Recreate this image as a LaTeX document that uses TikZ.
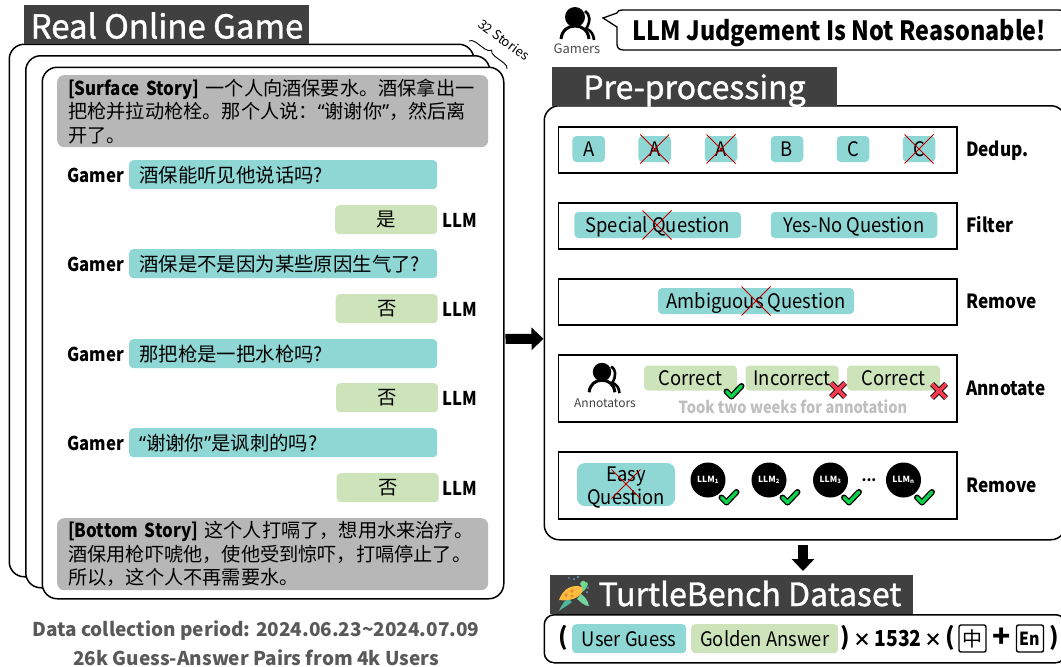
\documentclass[tikz,border=0pt]{standalone}
\usepackage{fontspec}
\setmainfont{Noto Sans CJK SC}
\newfontfamily\latq{Noto Sans}
\newfontfamily\titlefont[FakeBold=1.2]{Noto Sans CJK SC}
\newfontfamily\bd[FakeStretch=0.88]{Noto Sans CJK SC}
\newfontfamily\chipf[FakeStretch=0.92]{Noto Sans CJK SC}
\newcommand{\bdf}{\bd\bfseries}
\usetikzlibrary{arrows.meta,decorations.pathreplacing,calc}
\definecolor{tealc}{HTML}{8ED7D5}
\definecolor{greenc}{HTML}{CDE3BA}
\definecolor{grayc}{HTML}{B7B7B7}
\definecolor{barc}{HTML}{404040}
\definecolor{okc}{HTML}{0BD24A}
\definecolor{noc}{HTML}{F5394F}
\newcommand{\fs}[1]{\fontsize{#1}{#1}\selectfont}
\newcommand{\qo}{{\latq “}}
\newcommand{\qc}{{\latq ”}}
\newcommand{\zc}{\symbol{"FF0C}}
\newcommand{\zk}{\symbol{"FF1A}}
\tikzset{
  card/.style={draw=black,fill=white,line width=1.5pt,rounded corners=15pt,anchor=north west,inner sep=0pt},
  storybox/.style={fill=grayc,rounded corners=7pt,anchor=north west,inner xsep=11pt,inner ysep=0pt,minimum height=72pt,text width=409pt,align=left,font=\fontsize{19.2}{23.5}\selectfont},
  tealq/.style={fill=tealc,rounded corners=4pt,anchor=north west,minimum width=308pt,minimum height=29pt,inner xsep=10pt,inner ysep=0pt,text width=288pt,align=left,font=\fs{19.4}},
  greena/.style={fill=greenc,rounded corners=4pt,anchor=north west,minimum width=102pt,minimum height=29pt,inner sep=0pt,font=\fs{19.4}},
  who/.style={font=\bdf\fs{19},inner sep=0pt,text height=15pt,text depth=0pt},
  bar/.style={fill=barc,anchor=north west,inner sep=0pt},
  bartext/.style={text=white,font=\titlefont\fs{32},inner sep=0pt,text height=22pt,text depth=0pt},
  stage/.style={draw=black,line width=1.5pt,anchor=north west,minimum width=398.5pt,inner sep=0pt},
  stagelabel/.style={font=\bdf\fs{19.5},anchor=west,inner sep=0pt,text height=14pt,text depth=0pt},
  chip/.style={fill=tealc,rounded corners=4pt,inner sep=0pt,font=\chipf\fs{20},text height=15.5pt,text depth=0pt},
  gchip/.style={fill=greenc,rounded corners=4pt,inner sep=0pt,font=\chipf\fs{20},text height=15.5pt,text depth=0pt},
  llmdot/.style={circle,fill=black,minimum size=35pt,inner sep=0pt,text=white,font=\bfseries\fs{8.5}},
  bigarrow/.style={line width=10pt,-{Triangle[length=12pt,width=22pt]}},
  redx/.pic={\draw[red!75!black,line width=0.9pt] (-14.5,-14.5)--(14.5,14.5) (-14.5,14.5)--(14.5,-14.5);},
  okmark/.pic={\draw[black,line width=6pt,line cap=round,line join=round] (-7.5,0.5)--(-2.5,5.5)--(7.5,-5);
               \draw[okc,line width=3.4pt,line cap=round,line join=round] (-7.5,0.5)--(-2.5,5.5)--(7.5,-5);},
  nomark/.pic={\draw[black,line width=5.6pt] (-7,-7)--(7,7) (-7,7)--(7,-7);
               \draw[noc,line width=3.6pt] (-7,-7)--(7,7) (-7,7)--(7,-7);},
  people/.pic={
    \draw[black,line width=2.6pt] (10,-6) .. controls (15,-3) and (16,4) .. (11,12);
    \draw[black,line width=2.6pt] (12,12) .. controls (16,14) and (18.5,17) .. (19,23);
    \fill[black] (0,0) circle (10);
    \draw[black,line width=3pt] (-14,22) .. controls (-13,13) and (-7,9) .. (0,9) .. controls (7,9) and (13,13) .. (14,22);}
}
\begin{document}
\begin{tikzpicture}[x=1pt,y=-1pt]
\useasboundingbox (0,0) rectangle (1061,667);
\clip (0,0) rectangle (1061,667);
\fill[white] (0,0) rectangle (1061,667);

% left stack
\node[card,minimum width=464.5pt,minimum height=532.5pt] (card1) at (8.5,43.5) {};
\node[card,minimum width=464pt,minimum height=532pt] (card2) at (25,55) {};
\node[card,minimum width=461.5pt,minimum height=531.5pt] (card3) at (41.5,66.5) {};
\node[bar,minimum width=285pt,minimum height=39pt] (title1) at (24,5) {};
\node[bartext,anchor=center,font=\titlefont\fs{33},text height=23pt] (title1t) at (167,27) {Real Online Game};

\draw[line width=0.9pt,decorate,decoration={brace,amplitude=6pt}] (469,41) -- (507,69);
\node[font=\fs{13},rotate=-36,inner sep=0pt] (stories) at (504,40) {32 Stories};

\node[storybox] (surface) at (57,75) {\mbox{{\bdf [Surface Story]} 一个人向酒保要水。酒保拿出一}\\把枪并拉动枪栓。那个人说\zk\qo 谢谢你\qc\zc 然后离\\开了。};

\node[who,anchor=east] (g1) at (124,175) {Gamer};
\node[tealq] (q1) at (129,160) {酒保能听见他说话吗?};
\node[greena] (a1) at (335,205) {是};
\node[who,anchor=west] (l1) at (442,220) {LLM};
\node[who,anchor=east] (g2) at (124,264) {Gamer};
\node[tealq] (q2) at (129,249) {酒保是不是因为某些原因生气了?};
\node[greena] (a2) at (335.5,294) {否};
\node[who,anchor=west] (l2) at (442,309) {LLM};
\node[who,anchor=east] (g3) at (124,354) {Gamer};
\node[tealq] (q3) at (129,339) {那把枪是一把水枪吗?};
\node[greena] (a3) at (336,383) {否};
\node[who,anchor=west] (l3) at (442,398) {LLM};
\node[who,anchor=east] (g4) at (124,443) {Gamer};
\node[tealq] (q4) at (129,428) {\qo 谢谢你\qc 是讽刺的吗?};
\node[greena] (a4) at (336.5,473) {否};
\node[who,anchor=west] (l4) at (442,488) {LLM};

\node[storybox] (bottom) at (57,518) {\mbox{{\bdf [Bottom Story]} 这个人打嗝了\zc 想用水来治疗。}\\酒保用枪吓唬他\zc 使他受到惊吓\zc 打嗝停止了。\\所以\zc 这个人不再需要水。};

\node[font=\bfseries\fs{19},text=black!65,inner sep=0pt] (note1) at (256,630.5) {Data collection period: 2024.06.23\textasciitilde 2024.07.09};
\node[font=\bfseries\fs{19},text=black!65,inner sep=0pt] (note2) at (256,658) {26k Guess-Answer Pairs from 4k Users};

% right top
\pic at (575,17) {people};
\node[font=\fs{13},text=black!70,inner sep=0pt] (gamers) at (577,49) {Gamers};
\draw[black,line width=1.3pt,fill=white] (603,18) -- (617,13) .. controls (617,11) and (619,10) .. (624,10) -- (1059,10) .. controls (1063,10) and (1065,12) .. (1065,16) -- (1065,44) .. controls (1065,48) and (1063,50) .. (1059,50) -- (624,50) .. controls (619,50) and (617,48) .. (617,44) -- (617,27) -- cycle;
\node[font=\bdf\fs{26.5},inner sep=0pt,text height=16pt,text depth=0pt] (judge) at (839.5,32) {LLM Judgement Is Not Reasonable!};

% pre-processing panel
\node[card,minimum width=521.5pt,minimum height=434pt] (panel) at (543.5,105) {};
\node[bar,minimum width=285pt,minimum height=39pt] (title2) at (552,67) {};
\node[bartext,anchor=center] (title2t) at (694.5,88) {Pre-processing};

% Dedup
\node[stage,minimum height=46pt] (s1) at (557.5,126) {};
\foreach \n/\cx/\t in {1/588.7/A,2/654.7/A,3/721/A,4/787/B,5/853/C,6/919/C}{
  \node[chip,minimum width=32.5pt,minimum height=26pt] (d\n) at (\cx,149) {\t};
}
\foreach \n in {2,3,6}{\pic at (d\n.center) {redx};}
\node[stagelabel] (ls1) at (966,149) {Dedup.};

% Filter
\node[stage,minimum height=46pt] (s2) at (557.5,202) {};
\node[chip,minimum width=166.5pt,minimum height=26pt] (f1) at (657.7,225) {Special Question};
\node[chip,minimum width=166.5pt,minimum height=26pt] (f2) at (854,225) {Yes-No Question};
\pic at (657,225) {redx};
\node[stagelabel] (ls2) at (966,225) {Filter};

% Remove
\node[stage,minimum height=46pt] (s3) at (557.5,278) {};
\node[chip,minimum width=196pt,minimum height=26pt] (r1) at (756,301) {Ambiguous Question};
\pic at (756,301) {redx};
\node[stagelabel] (ls3) at (966,301) {Remove};

% Annotate
\node[stage,minimum height=67pt] (s4) at (557.5,354) {};
\pic[scale=0.92] at (602,372) {people};
\node[font=\fs{12},text=black!75,inner sep=0pt] (annot) at (605,403) {Annotators};
\node[gchip,minimum width=93pt,minimum height=25pt] (c1) at (690.5,378) {Correct};
\node[gchip,minimum width=93pt,minimum height=25pt] (c2) at (792,378) {Incorrect};
\node[gchip,minimum width=93pt,minimum height=25pt] (c3) at (893.5,378) {Correct};
\pic at (734,391) {okmark};
\pic at (838,390) {nomark};
\pic at (939,391) {nomark};
\node[font=\bdf\fs{16.6},text=black!25,inner sep=0pt] (took) at (793,407) {Took two weeks for annotation};
\node[stagelabel] (ls4) at (966,388) {Annotate};

% Remove 2
\node[stage,minimum height=67pt] (s5) at (557.5,451) {};
\node[chip,rounded corners=8pt,minimum width=98pt,minimum height=43pt] (e1) at (626,484.5) {};
\node[font=\chipf\fs{20},inner sep=0pt,text height=13.5pt,text depth=0pt] (e1a) at (626,475) {Easy};
\node[font=\chipf\fs{20},inner sep=0pt,text height=13.5pt,text depth=0pt] (e1b) at (626,497.5) {Question};
\pic at (626,484) {redx};
\foreach \n/\cx/\t in {1/708/1,2/769/2,3/830.5/3,4/903.5/n}{
  \node[llmdot] (m\n) at (\cx,480) {LLM\textsubscript{\t}};
  \pic at (\cx+21,497) {okmark};
}
\node[font=\bfseries\fs{14},inner sep=0pt] (mdots) at (869,480) {...};
\node[stagelabel] (ls5) at (966,485) {Remove};

% dataset
\node[bar,minimum width=363pt,minimum height=38.5pt] (title3) at (550,575) {};
\begin{scope}[shift={(575,594)}]
  \fill[okc!30!teal!70] (-3,8) .. controls (-8,12) and (-14,15) .. (-16,17) .. controls (-12,8) and (-10,6) .. (-6,5) -- cycle;
  \fill[teal!60!green!55] (2,5) .. controls (6,8) and (9,12) .. (14,12) .. controls (13,6) and (9,2) .. (6,0) -- cycle;
  \fill[teal!55!green!60] (6,-6) .. controls (8,-9) and (9,-12) .. (12,-12) .. controls (15,-10) and (10,-3) .. (7,-2) -- cycle;
  \fill[teal!50!green!55] (5,-10) .. controls (6,-13) and (9,-15) .. (11,-11) -- (8,-6) -- cycle;
  \fill[orange!70!yellow!75] (-16,6) .. controls (-12,-6) and (-2,-10) .. (7,-7) .. controls (10,0) and (0,8) .. (-16,6) -- cycle;
  \fill[orange!85!black!80] (-9,1) circle (1.8) (-3,-3) circle (1.8) (-3,2) circle (1.6);
  \fill[cyan!70!blue!60] (-6,-16) circle (0.8) (-1,-15) circle (1) (3,-17) circle (1.1) (13,-6) circle (0.9) (12,-2) circle (1);
\end{scope}
\node[bartext,anchor=center] (title3t) at (750,595) {TurtleBench Dataset};
\node[card,fill=white,rounded corners=10pt,minimum width=521.5pt,minimum height=48pt] (dpanel) at (543.5,614) {};
\node[font=\bfseries\fs{24},inner sep=0pt] (p1) at (563,638) {(};
\node[chip,fill=tealc,minimum width=114pt,minimum height=29pt,anchor=north west] (ug) at (572,624) {User Guess};
\node[gchip,minimum width=147pt,minimum height=29pt,anchor=north west] (ga) at (691,624) {Golden Answer};
\node[font=\bfseries\fs{24},inner sep=0pt] (p2) at (845,638) {)};
\node[font=\bfseries\fs{18},inner sep=0pt] (t1) at (862,640) {×};
\node[font=\bdf\fs{22},inner sep=0pt] (num) at (898,638.5) {1532};
\node[font=\bfseries\fs{18},inner sep=0pt] (t2) at (933,640) {×};
\node[font=\bfseries\fs{24},inner sep=0pt] (p3) at (950,638) {(};
\node[draw=black,line width=1.4pt,rounded corners=2pt,minimum size=27pt,inner sep=0pt,font=\fs{20}] (zh) at (972.5,638.5) {中};
\node[font=\bfseries\fs{30},inner sep=0pt] (plus) at (1002,638) {+};
\node[draw=black,line width=1.4pt,rounded corners=2pt,minimum size=27pt,inner sep=0pt,font=\bdf\fs{18}] (en) at (1030,638.5) {En};
\node[font=\bfseries\fs{24},inner sep=0pt] (p4) at (1054,638) {)};

% connectors
\draw[bigarrow,shorten <=1pt] ([yshift=-6pt]card3.east) -- ([yshift=-16pt]panel.west);
\coordinate (dx) at (803,0);
\draw[bigarrow,shorten <=4pt,shorten >=4pt] (panel.south -| dx) -- (title3.north -| dx);
\end{tikzpicture}
\end{document}
